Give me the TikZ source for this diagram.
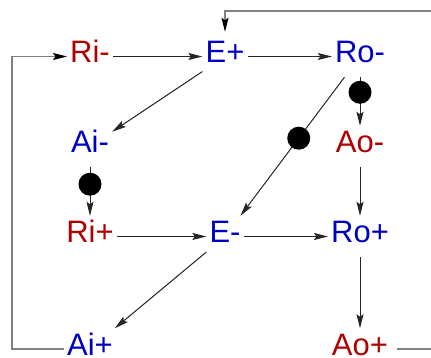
\documentclass[tikz,border=0pt]{standalone}
\usepackage{fontspec}
\usepackage{xcolor}
\usepackage{tikz}
\usetikzlibrary{arrows.meta, positioning, calc}
\newfontfamily\lblfont{Liberation Sans}
\definecolor{sigred}{RGB}{176,0,0}
\definecolor{sigblue}{RGB}{0,0,192}

\begin{document}
\begin{tikzpicture}[x=1pt, y=1pt,
    sig/.style={font=\lblfont\fontsize{31}{36}\selectfont, text height=20pt, text depth=7pt, inner xsep=3pt, inner ysep=7pt},
    rsig/.style={sig, text=sigred},
    bsig/.style={sig, text=sigblue},
    arr/.style={draw=black!85, line width=1pt, -{Stealth[length=14pt, width=7pt, inset=2.5pt]}},
    fb/.style={draw=black!50, line width=1.4pt, -{Stealth[length=14pt, width=7pt, inset=2.5pt, color=black]}},
    dot/.style={circle, fill=black, inner sep=0pt, minimum size=23pt}]
    \useasboundingbox (0, 0) rectangle (431, 358);

    \node[rsig] (rim) at (90, 301.5) {Ri-};
    \node[bsig] (ep)  at (225, 301.5) {E+};
    \node[bsig] (rom) at (360, 301.5) {Ro-};
    \node[bsig] (aim) at (90, 211.5) {Ai-};
    \node[rsig] (aom) at (360, 211.5) {Ao-};
    \node[rsig] (rip) at (90, 121.5) {Ri+};
    \node[bsig] (em)  at (225, 121.5) {E-};
    \node[bsig] (rop) at (360, 121.5) {Ro+};
    \node[bsig] (aip) at (90, 9) {Ai+};
    \node[rsig] (aop) at (360, 9) {Ao+};
    \coordinate (lft) at (12, 180);
    \coordinate (rgt) at (436, 347);

    \draw[arr] (rim) -- (ep);
    \draw[arr] (ep) -- (rom);
    \draw[arr] (ep) -- (aim);
    \draw[arr] (rom) -- node[dot, pos=0.31] (d1) {} (aom);
    \draw[arr] (rom) -- node[dot, pos=0.44] (d2) {} (em);
    \draw[arr] (aim) -- node[dot, pos=0.35] (d3) {} (rip);
    \draw[arr] (aom) -- (rop);
    \draw[arr] (rip) -- (em);
    \draw[arr] (em) -- (rop);
    \draw[arr] (em) -- (aip);
    \draw[arr] (rop) -- (aop);
    \draw[fb] (aip.west) -- (aip.west -| lft) |- (rim.west);
    \draw[fb, shorten >=4pt] ([xshift=6pt]aop.east) -| (rgt) -| (ep.north);
\end{tikzpicture}
\end{document}
